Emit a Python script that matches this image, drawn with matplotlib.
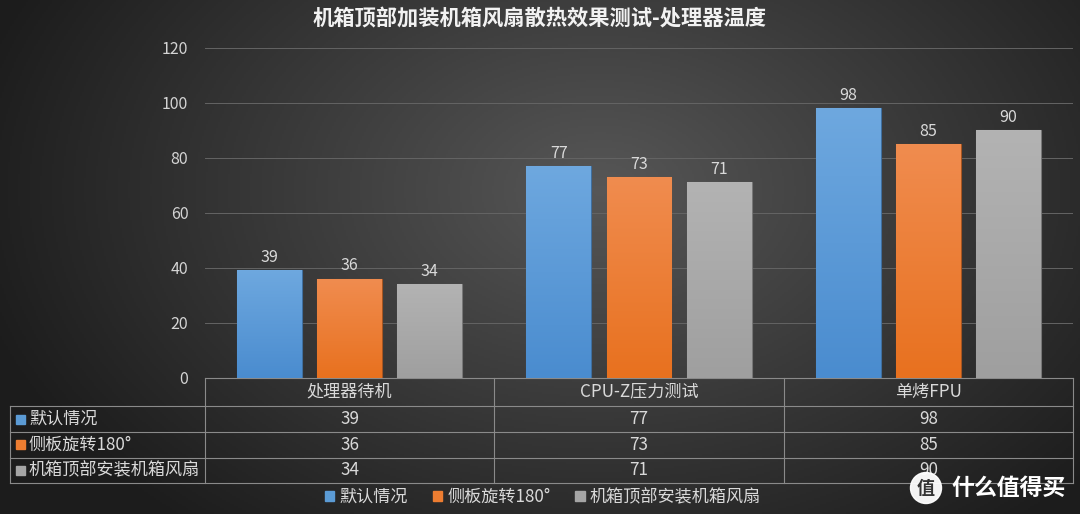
import numpy as np
import matplotlib.pyplot as plt
from matplotlib.colors import to_rgb
from matplotlib.patches import Patch, Rectangle, Circle

plt.rcParams['font.family'] = ['Noto Sans CJK SC', 'DejaVu Sans']

# data
categories = ['处理器待机', 'CPU-Z压力测试', '单烤FPU']
series = ['默认情况', '侧板旋转180°', '机箱顶部安装机箱风扇']
default_vals = [39, 77, 98]
rotated_vals = [36, 73, 85]
topfan_vals = [34, 71, 90]
yticks = [0, 20, 40, 60, 80, 100, 120]

values = [default_vals, rotated_vals, topfan_vals]
colors = ['#5b9bd5', '#ed7d31', '#a5a5a5']
tops = ['#6ea8df', '#f08c4f', '#b3b3b3']
bottoms = ['#4a8ccf', '#e8711f', '#9f9f9f']
edges = ['#3f6f9f', '#a65521', '#777777']
txt = '#d9d9d9'

W, H = 1080, 514
fig = plt.figure(figsize=(W / 100, H / 100), dpi=100)

# background gradient
bg = fig.add_axes([0, 0, 1, 1], zorder=-10)
xx, yy = np.meshgrid(np.linspace(0, W, 540), np.linspace(0, H, 257))
d = np.sqrt(((xx - 600) / 620) ** 2 + ((yy - 190) / 420) ** 2)
shade = np.clip(0.34 - 0.22 * d, 0.11, 0.34)
bg.imshow(np.dstack([shade] * 3), extent=[0, W, H, 0], aspect='auto')
bg.set_xlim(0, W)
bg.set_ylim(H, 0)
bg.axis('off')

# plot area
x0, x1 = 205, 1073
y_top, y_zero = 47.7, 377.5
ax = fig.add_axes([x0 / W, 1 - y_zero / H, (x1 - x0) / W, (y_zero - y_top) / H])
ax.patch.set_alpha(0)
ax.set_yticks(yticks)
ax.tick_params(axis='y', length=0, pad=12, labelsize=11.5, labelcolor='#d4d4d4')
ax.set_xticks([])
for s in ax.spines.values():
    s.set_visible(False)
ax.grid(axis='y', color='#646464', linewidth=0.7)
ax.set_axisbelow(True)

bw = 0.224
step = 0.277
x = np.arange(len(categories))
grad = np.linspace(0, 1, 100).reshape(-1, 1)
for i, vals in enumerate(values):
    bars = ax.bar(x + (i - 1) * step, vals, width=bw, color=colors[i],
                  edgecolor=edges[i], linewidth=0.8, zorder=3)
    top = np.array(to_rgb(tops[i]))
    bot = np.array(to_rgb(bottoms[i]))
    img = top + (bot - top) * grad[:, :, None]
    for b, v in zip(bars, vals):
        bx = b.get_x()
        im = ax.imshow(img, extent=[bx, bx + bw, 0, v], aspect='auto', zorder=3.5)
        im.set_clip_path(b)
        ax.text(bx + bw / 2, v + 4.6, str(v), ha='center', va='center',
                fontsize=11.5, color=txt, zorder=5)
ax.set_xlim(-0.5, 2.5)
ax.set_ylim(0, 120)

fig.text(0.5, 1 - 19 / H, '机箱顶部加装机箱风扇散热效果测试-处理器温度',
         ha='center', va='center', fontsize=15.3, fontweight='bold', color='#f2f2f2')

# data table
lc = '#8a8a8a'
rows_y = [377.5, 406, 432, 457.6, 483]
col_x = np.linspace(x0, x1, len(categories) + 1)
lx = 10
bg.plot([x0, x1], [rows_y[0], rows_y[0]], color=lc, lw=0.8)
for ry in rows_y[1:]:
    bg.plot([lx, x1], [ry, ry], color=lc, lw=0.8)
for cx in col_x:
    bg.plot([cx, cx], [rows_y[0], rows_y[-1]], color=lc, lw=0.8)
bg.plot([lx, lx], [rows_y[1], rows_y[-1]], color=lc, lw=0.8)

for j, c in enumerate(categories):
    bg.text((col_x[j] + col_x[j + 1]) / 2, (rows_y[0] + rows_y[1]) / 2, c,
            ha='center', va='center', fontsize=12.3, color=txt)
for i, name in enumerate(series):
    yc = (rows_y[i + 1] + rows_y[i + 2]) / 2
    bg.add_patch(Rectangle((15.5, yc - 4.5), 9, 9, color=colors[i]))
    bg.text(29, yc, name, ha='left', va='center', fontsize=12.3, color=txt)
    for j, v in enumerate(values[i]):
        bg.text((col_x[j] + col_x[j + 1]) / 2, yc, str(v), ha='center',
                va='center', fontsize=12.3, color=txt)

# legend
handles = [Patch(color=c, label=s) for c, s in zip(colors, series)]
fig.legend(handles=handles, loc='center', bbox_to_anchor=(543 / W, 1 - 497 / H),
           ncol=3, frameon=False, fontsize=12.3, labelcolor=txt,
           handlelength=0.55, handleheight=0.55, handletextpad=0.3,
           columnspacing=1.45)

# watermark
bg.add_patch(Circle((926, 488), 15.5, color='white', alpha=0.95, zorder=10))
bg.text(926, 488, '值', ha='center', va='center', fontsize=13, fontweight='bold',
        color='#333333', zorder=11)
bg.text(1009, 488, '什么值得买', ha='center', va='center', fontsize=16.5,
        fontweight='bold', color='white', zorder=11)

fig.savefig('out.png', dpi=100)
